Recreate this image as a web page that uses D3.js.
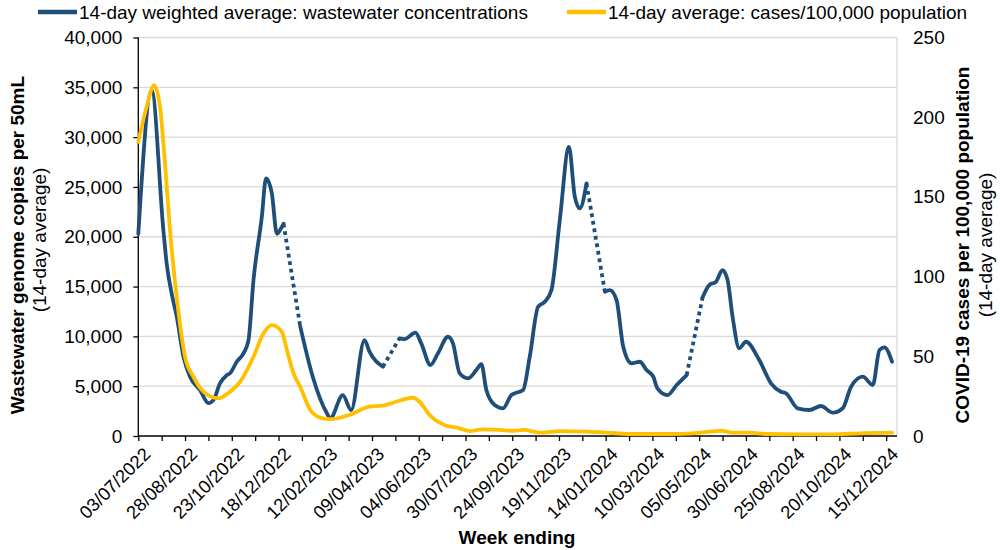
<!DOCTYPE html>
<html><head><meta charset="utf-8">
<script src="https://cdn.jsdelivr.net/npm/d3@7"></script>
<style>body{margin:0;background:#fff}svg{font-family:"Liberation Sans",Arial,sans-serif}</style>
</head><body><svg id="c" width="1000" height="550"></svg>
<script>
// ---- data ----
const xTickLabels = ["03/07/2022","28/08/2022","23/10/2022","18/12/2022","12/02/2023","09/04/2023","04/06/2023","30/07/2023","24/09/2023","19/11/2023","14/01/2024","10/03/2024","05/05/2024","30/06/2024","25/08/2024","20/10/2024","15/12/2024"];
const leftTicks = [0,5000,10000,15000,20000,25000,30000,35000,40000];
const rightTicks = [0,50,100,150,200,250];

const wwDates = ["2022-07-03","2022-07-19","2022-08-02","2022-08-06","2022-08-12","2022-08-18","2022-08-26","2022-09-03","2022-09-15","2022-09-25","2022-10-01","2022-10-09","2022-10-17","2022-10-21","2022-10-29","2022-11-06","2022-11-12","2022-11-18","2022-11-28","2022-12-03","2022-12-10","2022-12-16","2022-12-20","2022-12-24",
"2023-01-13","2023-01-28","2023-02-14","2023-02-18","2023-03-05","2023-03-15","2023-03-31","2023-04-06","2023-04-22",
"2023-05-12","2023-05-18","2023-05-31","2023-06-07","2023-06-18","2023-06-27","2023-07-09","2023-07-15","2023-07-23","2023-08-02","2023-08-12","2023-08-18","2023-08-24","2023-09-03","2023-09-13","2023-09-23","2023-09-27","2023-10-07","2023-10-15","2023-10-25","2023-11-02","2023-11-10","2023-11-20","2023-12-01","2023-12-08","2023-12-14","2023-12-22",
"2024-01-13","2024-01-19","2024-01-27","2024-02-04","2024-02-14","2024-02-24","2024-03-03","2024-03-11","2024-03-16","2024-03-28","2024-04-08","2024-04-20",
"2024-05-09","2024-05-17","2024-05-25","2024-06-02","2024-06-08","2024-06-14","2024-06-22","2024-06-30","2024-07-16","2024-07-30","2024-08-11","2024-08-17","2024-08-31","2024-09-14","2024-09-28","2024-10-12","2024-10-24","2024-11-03","2024-11-17","2024-11-29","2024-12-07","2024-12-13","2024-12-22"];
const wwValues = [20300,34700,20700,17300,14300,12000,8000,5950,4600,3300,3600,5300,6100,6300,7450,8300,9600,15650,22000,25850,24350,20300,20700,21300,
11000,5950,2280,1780,4100,2600,9630,8460,6950,
9800,9730,10370,9300,7120,8300,9960,9300,6290,5790,6620,7220,4615,3110,2780,4110,4280,4615,7960,12970,13470,14650,21670,29030,24010,22840,25350,
14480,14650,13640,8960,7290,7455,6620,5950,4785,4110,5120,6120,
13900,15150,15480,16650,15650,11970,8800,9460,7625,5290,4445,4280,2780,2610,3010,2340,2780,4950,5950,5120,8630,8900,7455];
// last date of each solid stretch; a dotted link joins it to the next reading
const wwGapAfter = ["2022-12-24","2023-04-22","2023-12-22","2024-04-20"];

const caseDates = ["2022-07-03","2022-07-13","2022-07-22","2022-07-29","2022-08-04","2022-08-10","2022-08-18","2022-08-28","2022-09-07","2022-09-19","2022-10-07","2022-10-21","2022-11-02","2022-11-18","2022-11-30","2022-12-10","2022-12-22","2022-12-28","2023-01-05","2023-01-13","2023-01-25","2023-02-06","2023-02-18","2023-03-13","2023-04-06","2023-04-22","2023-05-08","2023-05-28","2023-06-05","2023-06-17","2023-07-03","2023-07-23","2023-08-04","2023-08-20","2023-09-09","2023-09-25","2023-10-07","2023-10-29","2023-11-20","2023-12-22","2024-01-15","2024-02-12","2024-03-31","2024-04-27","2024-05-17","2024-05-31","2024-06-14","2024-07-04","2024-07-24","2024-09-02","2024-10-12","2024-11-13","2024-12-22"];
const caseValues = [184.5,206.5,220,206.5,171,129,87.3,49.7,37.2,27.8,23.6,27.8,34,49.7,64.4,69.6,65.4,53.9,39.3,30.9,16.3,11.5,10.5,13.2,18.4,19,21.5,24,21.5,13.2,7.3,4.8,3.1,4.2,3.8,3.3,3.8,2.1,3.1,2.7,2.1,1.25,1.25,1.7,2.7,3.3,2.1,2.1,1.25,1.05,1.05,1.7,2.1];

// ---- chart ----
const svg = d3.select("#c");
const parse = d3.timeParse("%Y-%m-%d");
const parseLbl = d3.timeParse("%d/%m/%Y");
const L = 138.3, R = 897, T = 37.5, B = 436;
const x = d3.scaleTime().domain([parse("2022-07-03"), parse("2024-12-28")]).range([L, R]);
const yL = d3.scaleLinear().domain([0,40000]).range([B,T]);
const yR = d3.scaleLinear().domain([0,250]).range([B,T]);
const blue = "#1F4E79", yellow = "#FFC000";
const FS = 19;

// gridlines
svg.append("g").selectAll("line").data(leftTicks.filter(d=>d>0)).join("line")
  .attr("x1",L).attr("x2",R).attr("y1",d=>yL(d)).attr("y2",d=>yL(d))
  .attr("stroke","#d9d9d9").attr("stroke-width",1.3);
svg.append("line").attr("x1",R).attr("x2",R).attr("y1",T).attr("y2",B).attr("stroke","#d9d9d9").attr("stroke-width",1.3);

// left axis
const gL = svg.append("g").attr("transform",`translate(${L},0)`)
  .call(d3.axisLeft(yL).tickValues(leftTicks).tickSize(5).tickPadding(11).tickFormat(d3.format(",")));
gL.selectAll("text").attr("font-size",FS).attr("fill","#000").attr("font-family","Liberation Sans, Arial");
gL.selectAll("line,path").attr("stroke","#000").attr("stroke-width",1.3);
gL.select("path").attr("d",`M0,${T}V${B}`);

// right axis labels
const gR = svg.append("g").attr("transform",`translate(${R},0)`)
  .call(d3.axisRight(yR).tickValues(rightTicks).tickSize(0).tickPadding(16));
gR.select("path").remove();
gR.selectAll("text").attr("font-size",FS).attr("fill","#000").attr("font-family","Liberation Sans, Arial");

// bottom axis
const start = parse("2022-07-03");
const minorTicks = d3.range(0,33).map(i=>d3.timeDay.offset(start,i*28));
const gB = svg.append("g").attr("transform",`translate(0,${B})`)
  .call(d3.axisBottom(x).tickValues(minorTicks).tickSize(5).tickFormat(""));
gB.selectAll("line,path").attr("stroke","#000").attr("stroke-width",1.3);
gB.select("path").attr("d",`M${L},0H${R}`);
svg.append("g").selectAll("text").data(xTickLabels).join("text")
  .attr("transform",d=>`translate(${x(parseLbl(d))+4},${B+10}) rotate(-45)`)
  .attr("text-anchor","end").attr("dy","0.72em").attr("font-size",18.3).text(d=>d);

// lines
const wwPts = wwDates.map((d,i)=>({date:parse(d),v:wwValues[i]}));
const segs = []; let cur = [];
wwPts.forEach((p,i)=>{cur.push(p); if (wwGapAfter.includes(wwDates[i])) {segs.push(cur); cur=[];}});
segs.push(cur);
const lineL = d3.line().x(d=>x(d.date)).y(d=>yL(d.v)).curve(d3.curveMonotoneX);
for (let i=0;i<segs.length-1;i++){
  const a = segs[i][segs[i].length-1], b = segs[i+1][0];
  svg.append("path").attr("d",d3.line().x(d=>x(d.date)).y(d=>yL(d.v))([a,b]))
    .attr("fill","none").attr("stroke",blue).attr("stroke-width",3.8).attr("stroke-dasharray","3.8,3.8");
}
segs.forEach(s=>svg.append("path").attr("d",lineL(s)).attr("fill","none").attr("stroke",blue)
  .attr("stroke-width",3.8).attr("stroke-linejoin","round").attr("stroke-linecap","round"));

const casePts = caseDates.map((d,i)=>({date:parse(d),v:caseValues[i]}));
svg.append("path").attr("d",d3.line().x(d=>x(d.date)).y(d=>yR(d.v)).curve(d3.curveMonotoneX)(casePts))
  .attr("fill","none").attr("stroke",yellow).attr("stroke-width",3.8).attr("stroke-linejoin","round").attr("stroke-linecap","round");

// axis titles
svg.append("text").attr("transform","translate(24,245) rotate(-90)").attr("text-anchor","middle").attr("font-weight","bold").attr("font-size",FS).text("Wastewater genome copies per 50mL");
svg.append("text").attr("transform","translate(46,240) rotate(-90)").attr("text-anchor","middle").attr("font-size",FS).text("(14-day average)");
svg.append("text").attr("transform","translate(969,245) rotate(-90)").attr("text-anchor","middle").attr("font-weight","bold").attr("font-size",FS).text("COVID-19 cases per 100,000 population");
svg.append("text").attr("transform","translate(992,245) rotate(-90)").attr("text-anchor","middle").attr("font-size",FS).text("(14-day average)");
svg.append("text").attr("x",517).attr("y",544).attr("text-anchor","middle").attr("font-weight","bold").attr("font-size",FS).text("Week ending");

// legend
const leg = [{c:blue,t:"14-day weighted average: wastewater concentrations",x:38},{c:yellow,t:"14-day average: cases/100,000 population",x:567}];
leg.forEach(l=>{
  svg.append("line").attr("x1",l.x).attr("x2",l.x+39).attr("y1",12).attr("y2",12).attr("stroke",l.c).attr("stroke-width",4.5);
  svg.append("text").attr("x",l.x+41).attr("y",18.5).attr("font-size",19).text(l.t);
});
</script></body></html>
